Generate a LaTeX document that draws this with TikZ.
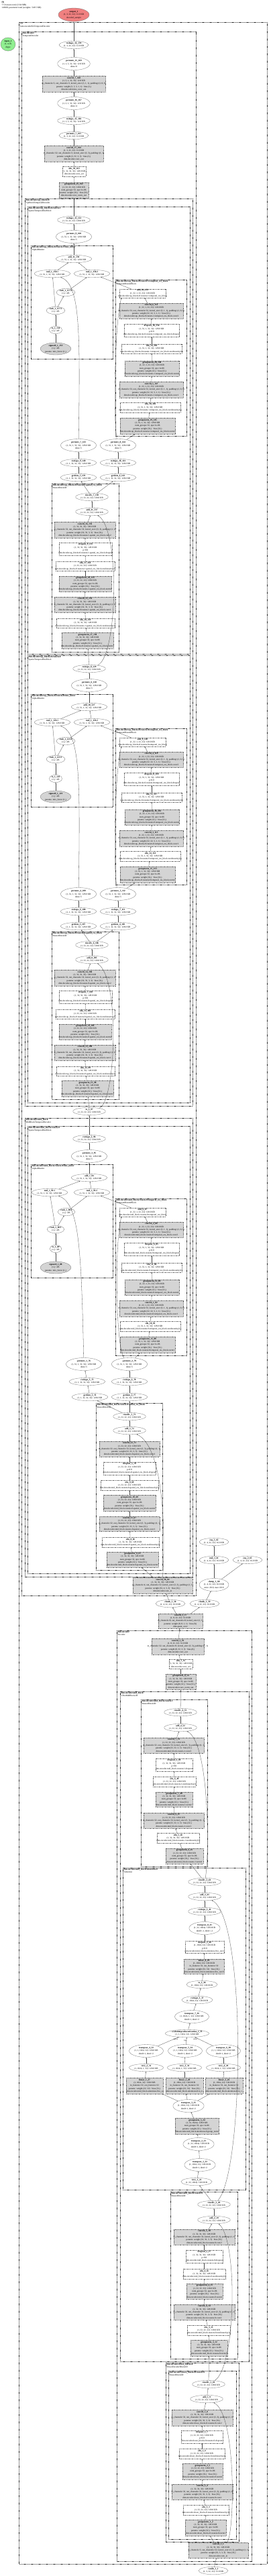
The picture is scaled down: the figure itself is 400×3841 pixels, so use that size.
\documentclass[tikz,border=0pt]{standalone}
\usepackage{fontspec}
\setmainfont{Liberation Serif}
\usetikzlibrary{shapes.geometric,arrows.meta}
\definecolor{outred}{HTML}{F08080}
\definecolor{ingreen}{HTML}{90EE90}
\tikzset{
  every node/.style={font=\fontsize{3.3}{4.3}\selectfont, align=center},
  ell/.style={ellipse, draw=black!55, line width=0.3pt, inner sep=0.4pt},
  gb/.style={rectangle, draw=black!65, line width=0.3pt, dash pattern=on 1pt off 0.7pt, fill=black!17, inner sep=0pt},
  wb/.style={rectangle, draw=black!65, line width=0.3pt, dash pattern=on 1pt off 0.7pt, fill=white, inner sep=0pt},
  txt/.style={inner sep=0pt},
  cl/.style={draw=black!80, line width=0.35pt, dash pattern=on 1.4pt off 0.8pt},
  cll/.style={anchor=north west, align=left, inner sep=0pt},
  e/.style={-{Stealth[length=1.8pt,width=1.4pt]}, line width=0.3pt, draw=black!70},
  elab/.style={font=\fontsize{2.8}{3}\selectfont, inner sep=0pt},
}
\newcommand\nE[4]{\node[ell] (#1) at (#2) {\textbf{#3}\\#4};}
\newcommand\nEE[4]{\node[ell,minimum height=19] (#1) at (#2) {\textbf{#3}\\#4};}
\newcommand\nG[6]{\node[gb,minimum width=#3,minimum height=#4] (#1) at (#2) {};\node[txt] at (#2) {\textbf{#5}\\#6};}
\newcommand\nW[6]{\node[wb,minimum width=#3,minimum height=#4] (#1) at (#2) {};\node[txt] at (#2) {\textbf{#5}\\#6};}
\newcommand\clu[3]{\draw[cl] (#1) rectangle (#2);\node[cll,xshift=1.5pt,yshift=-0.8pt] at (#1) {#3};}
\begin{document}
\catcode`\_=12
\newcommand\shS{(1, 32, 32, 32): 128.0 KB}
\newcommand\shT{(1, 32, 1, 32, 32): 128.0 KB}
\newcommand\shF{(1, 1, 32, 32, 32): 128.0 KB}
\newcommand\gnP{num_groups=32, eps=1e-06\\params: weight (32,) · bias (32,)}
\newcommand\cvS{in_channels=32, out_channels=32, kernel_size=(3, 3), padding=(1, 1)\\params: weight (32, 32, 3, 3) · bias (32,)}
\newcommand\cvT{in_channels=32, out_channels=32, kernel_size=(3, 1, 1), padding=(1, 0, 0)\\params: weight (32, 32, 3, 1, 1) · bias (32,)}
\newcommand\lnP{in_features=32, out_features=32\\params: weight (32, 32) · bias (32,)}
\newcommand\scl{(1,): 4 B}
\begin{tikzpicture}[x=1pt,y=-1pt]
\fill[white] (0,0) rectangle (400,3841);
\useasboundingbox (0,0) rectangle (400,3841);
\node[anchor=north west, align=left, inner sep=0pt] (hdr) at (2.5,1.5) {\textbf{fft}\\772 tensors total (3.64 MB)\\148102 parameter total (weights: 549.5 KB)};
% ---------------- clusters
\draw[cl, line width=0.65pt] (28,33) rectangle (398,3823);
\node[cll,xshift=1.5pt,yshift=-1pt] at (28,33) {\textbf{vae}\\AutoencoderKLTemporalDecoder};
\clu{32,47}{292,2379}{\textbf{dim.decoder}\\TemporalDecoder}
\clu{37,296}{287,1649}{\textbf{dim.decoder.up_blocks.0}\\UpBlockTemporalDecoder}
\clu{41,308}{283,975}{\textbf{dim.decoder.up_blocks.0.resnets.1}\\SpatioTemporalResBlock}
\clu{46,366}{168,535}{\textbf{dim.decoder.up_blocks.0.resnets.1.time_mixer}\\AlphaBlender}
\clu{172,417}{278,650}{\textbf{dim.decoder.up_blocks.0.resnets.1.temporal_res_block}\\TemporalResnetBlock}
\clu{77,721}{177,972}{\textbf{dim.decoder.up_blocks.0.resnets.1.spatial_res_block}\\ResnetBlock2D}
\clu{41,977}{283,1644}{\textbf{dim.decoder.up_blocks.0.resnets.0}\\SpatioTemporalResBlock}
\clu{46,1035}{168,1203}{\textbf{dim.decoder.up_blocks.0.resnets.0.time_mixer}\\AlphaBlender}
\clu{172,1086}{278,1319}{\textbf{dim.decoder.up_blocks.0.resnets.0.temporal_res_block}\\TemporalResnetBlock}
\clu{77,1389}{177,1639}{\textbf{dim.decoder.up_blocks.0.resnets.0.spatial_res_block}\\ResnetBlock2D}
\clu{37,1667}{287,2351}{\textbf{dim.decoder.mid_block}\\MidBlockTemporalDecoder}
\clu{41,1679}{283,2346}{\textbf{dim.decoder.mid_block.resnets.0}\\SpatioTemporalResBlock}
\clu{46,1736}{168,1905}{\textbf{dim.decoder.mid_block.resnets.0.time_mixer}\\AlphaBlender}
\clu{172,1787}{278,2021}{\textbf{dim.decoder.mid_block.resnets.0.temporal_res_block}\\TemporalResnetBlock}
\clu{143,2092}{242,2341}{\textbf{dim.decoder.mid_block.resnets.0.spatial_res_block}\\ResnetBlock2D}
\clu{174,2431}{375,3819}{\textbf{dim.encoder}\\Encoder}
\clu{179,2522}{371,3521}{\textbf{dim.encoder.mid_block}\\UNetMidBlock2D}
\clu{210,2534}{309,2783}{\textbf{dim.encoder.mid_block.resnets.1}\\ResnetBlock2D}
\clu{183,2785}{366,3265}{\textbf{dim.encoder.mid_block.attentions.0}\\Attention}
\clu{254,3268}{354,3517}{\textbf{dim.encoder.mid_block.resnets.0}\\ResnetBlock2D}
\clu{247,3523}{356,3790}{\textbf{dim.encoder.down_blocks.0}\\DownEncoderBlock2D}
\clu{251,3535}{352,3786}{\textbf{dim.encoder.down_blocks.0.resnets.0}\\ResnetBlock2D}
% ---------------- top
\node[ell, fill=outred, minimum width=46, minimum height=20] (out) at (110,22) {\textbf{output_1}\\(1, 3, 32, 32): 12.0 KB\\decoded_sample};
\node[ell, fill=ingreen, minimum width=22, minimum height=20] (inp) at (12,66) {\textbf{input_1}\\(1, 4, 8)\\dtype};
\nE{r14}{110,67}{reshape_14_170}{(1, 3, 32, 32): 12.0 KB}
\nEE{p21}{110,95}{permute_21_169}{(1, 1, 3, 32, 32): 12.0 KB\\dims=0}
\nG{c3d7}{110,125}{94}{24}{conv3d_7_168}{(1, 3, 1, 32, 32): 12.0 KB\\in_channels=3, out_channels=3, kernel_size=(3, 1, 1), padding=(1, 0, 0)\\params: weight (3, 3, 3, 1, 1) · bias (3,)\\dim.decoder.time_conv_out}
\nEE{p16}{110,154}{permute_16_167}{(1, 3, 1, 32, 32): 12.0 KB\\dims=4}
\nE{r12}{110,180}{reshape_12_166}{(1, 1, 3, 32, 32): 12.0 KB}
\nE{p7}{110,202}{permute_7_165}{(1, 3, 32, 32): 12.0 KB}
\nG{c2d57}{110,229}{88}{24}{conv2d_57_164}{(1, 3, 32, 32): 12.0 KB\\in_channels=32, out_channels=3, kernel_size=(3, 3), padding=(1, 1)\\params: weight (3, 32, 3, 3) · bias (3,)\\dim.decoder.conv_out}
\nW{s58}{110.5,255.5}{35}{15}{silu_58_163}{\shS\\dim.decoder.conv_act}
\nG{gn25}{110,283.5}{44}{23}{groupnorm_25_162}{\shS\\\gnP\\dim.decoder.conv_norm_out}
% ---------------- block A (up_blocks.0.resnets.1)
\nE{Ar11}{110,328}{reshape_11_161}{\shS}
\nEE{Ap9}{110,353}{permute_9_160}{\shT\\dims=5}
\nE{Aadd}{110,386}{add_11_159}{\shT}
\nE{Amul1}{78,408}{mul_1_158.1}{\shT}
\nE{Amul2}{137,408}{mul_1_158.2}{\shT}
\nE{Ars2}{98,436}{rsub_1_157.2}{\scl}
\nE{Ars1}{83,463}{rsub_1_157.1}{\scl}
\nE{Ato}{83,492}{to_1_154}{\scl}
\node[ell, fill=black!17, minimum height=18] (Asig) at (83,520) {\textbf{sigmoid_1_153}\\\scl\\params: mix_factor (1,)};
\nW{Atadd}{212.5,437.5}{69}{13}{add_32_152}{\shT\\dim.decoder.up_blocks.0.resnets.1.temporal_res_block}
\nG{Atc2}{225.5,463.5}{95}{23}{conv3d_6_151}{\shT\\\cvT\\dim.decoder.up_blocks.0.resnets.1.temporal_res_block.conv2}
\nW{Atdr}{226,492.5}{82}{19}{dropout_10_150}{\shT\\p=0.0\\dim.decoder.up_blocks.0.resnets.1.temporal_res_block.dropout}
\nW{Ats2}{226,520}{90}{14}{silu_19_149}{\shT\\dim.decoder.up_blocks.0.resnets.1.temporal_res_block.nonlinearity(2)}
\nG{Atn2}{226.5,549.5}{81}{23}{groupnorm_20_148}{\shT\\\gnP\\dim.decoder.up_blocks.0.resnets.1.temporal_res_block.norm2}
\nG{Atc1}{225.5,581}{95}{24}{conv3d_5_147}{\shT\\\cvT\\dim.decoder.up_blocks.0.resnets.1.temporal_res_block.conv1}
\nW{Ats1}{224,607.5}{90}{15}{silu_18_146}{\shT\\dim.decoder.up_blocks.0.resnets.1.temporal_res_block.nonlinearity(1)}
\nG{Atn1}{220,635}{82}{24}{groupnorm_19_145}{\shT\\\gnP\\dim.decoder.up_blocks.0.resnets.1.temporal_res_block.norm1}
\nEE{Ap7}{117,664}{permute_7_143}{\shT\\dims=5}
\nEE{Ap8}{176,664}{permute_8_144}{\shT\\dims=5}
\nE{Ar9}{117,690}{reshape_9_140}{\shF}
\nE{Ar10}{176,690}{reshape_10_141}{\shF}
\nE{Ag5}{117,712}{getitem_5_139}{\shF}
\nE{Ag6}{176,712}{getitem_6_142}{\shF}
\nE{Atd}{137,741}{truediv_7_138}{\shS}
\nE{Asadd}{137,763}{add_31_137}{\shS}
\nG{Asc2}{126.5,790}{91}{24}{conv2d_56_136}{\shS\\\cvS\\dim.decoder.up_blocks.0.resnets.1.spatial_res_block.conv2}
\nW{Asdr}{127.5,818.5}{79}{19}{dropout_9_135}{\shS\\p=0.0\\dim.decoder.up_blocks.0.resnets.1.spatial_res_block.dropout}
\nW{Ass2}{127,844}{88}{14}{silu_17_134}{\shS\\dim.decoder.up_blocks.0.resnets.1.spatial_res_block.nonlinearity(2)}
\nG{Asn2}{127,870.5}{78}{23}{groupnorm_18_133}{\shS\\\gnP\\dim.decoder.up_blocks.0.resnets.1.spatial_res_block.norm2}
\nG{Asc1}{126.5,901.5}{91}{23}{conv2d_55_132}{\shS\\\cvS\\dim.decoder.up_blocks.0.resnets.1.spatial_res_block.conv1}
\nW{Ass1}{127.5,929}{87}{14}{silu_16_131}{\shS\\dim.decoder.up_blocks.0.resnets.1.spatial_res_block.nonlinearity(1)}
\nG{Asn1}{130.5,955}{77}{24}{groupnorm_17_130}{\shS\\\gnP\\dim.decoder.up_blocks.0.resnets.1.spatial_res_block.norm1}
% ---------------- block B (up_blocks.0.resnets.0)
\nE{Br8}{133,997}{reshape_8_129}{\shS}
\nEE{Bp6}{133,1022}{permute_6_128}{\shT\\dims=5}
\nE{Badd}{133,1054}{add_10_127}{\shT}
\nE{Bmul1}{78,1077}{mul_1_126.1}{\shT}
\nE{Bmul2}{137,1077}{mul_1_126.2}{\shT}
\nE{Brs2}{98,1105}{rsub_1_125.2}{\scl}
\nE{Brs1}{83,1132}{rsub_1_125.1}{\scl}
\nE{Bto}{83,1161}{to_1_122}{\scl}
\node[ell, fill=black!17, minimum height=18] (Bsig) at (83,1188) {\textbf{sigmoid_1_121}\\\scl\\params: mix_factor (1,)};
\nW{Btadd}{212.5,1106.5}{69}{13}{add_9_120}{\shT\\dim.decoder.up_blocks.0.resnets.0.temporal_res_block}
\nG{Btc2}{225.5,1132.5}{95}{23}{conv3d_4_119}{\shT\\\cvT\\dim.decoder.up_blocks.0.resnets.0.temporal_res_block.conv2}
\nW{Btdr}{226,1161.5}{82}{19}{dropout_8_118}{\shT\\p=0.0\\dim.decoder.up_blocks.0.resnets.0.temporal_res_block.dropout}
\nW{Bts2}{226,1189}{90}{14}{silu_15_117}{\shT\\dim.decoder.up_blocks.0.resnets.0.temporal_res_block.nonlinearity(2)}
\nG{Btn2}{226.5,1218.5}{81}{23}{groupnorm_16_116}{\shT\\\gnP\\dim.decoder.up_blocks.0.resnets.0.temporal_res_block.norm2}
\nG{Btc1}{225.5,1250}{95}{24}{conv3d_3_115}{\shT\\\cvT\\dim.decoder.up_blocks.0.resnets.0.temporal_res_block.conv1}
\nW{Bts1}{224,1276.5}{90}{15}{silu_14_114}{\shT\\dim.decoder.up_blocks.0.resnets.0.temporal_res_block.nonlinearity(1)}
\nG{Btn1}{220,1304}{82}{24}{groupnorm_15_113}{\shT\\\gnP\\dim.decoder.up_blocks.0.resnets.0.temporal_res_block.norm1}
\nEE{Bp4}{117,1333}{permute_4_109}{\shT\\dims=5}
\nEE{Bp5}{176,1333}{permute_5_112}{\shT\\dims=5}
\nE{Br6}{117,1359}{reshape_6_108}{\shF}
\nE{Br7}{176,1359}{reshape_7_111}{\shF}
\nE{Bg3}{117,1381}{getitem_3_107}{\shF}
\nE{Bg4}{176,1381}{getitem_4_110}{\shF}
\nE{Btd}{137,1409}{truediv_6_106}{\shS}
\nE{Bsadd}{137,1431}{add_8_105}{\shS}
\nG{Bsc2}{126.5,1458}{91}{24}{conv2d_54_104}{\shS\\\cvS\\dim.decoder.up_blocks.0.resnets.0.spatial_res_block.conv2}
\nW{Bsdr}{127.5,1486.5}{79}{19}{dropout_7_103}{\shS\\p=0.0\\dim.decoder.up_blocks.0.resnets.0.spatial_res_block.dropout}
\nW{Bss2}{127,1512}{88}{14}{silu_13_102}{\shS\\dim.decoder.up_blocks.0.resnets.0.spatial_res_block.nonlinearity(2)}
\nG{Bsn2}{127,1538.5}{78}{23}{groupnorm_14_101}{\shS\\\gnP\\dim.decoder.up_blocks.0.resnets.0.spatial_res_block.norm2}
\nG{Bsc1}{126.5,1569.5}{91}{23}{conv2d_53_100}{\shS\\\cvS\\dim.decoder.up_blocks.0.resnets.0.spatial_res_block.conv1}
\nW{Bss1}{127.5,1597}{87}{14}{silu_12_99}{\shS\\dim.decoder.up_blocks.0.resnets.0.spatial_res_block.nonlinearity(1)}
\nG{Bsn1}{130.5,1623}{77}{24}{groupnorm_13_98}{\shS\\\gnP\\dim.decoder.up_blocks.0.resnets.0.spatial_res_block.norm1}
\nE{to3}{133,1657}{to_3_97}{\shS}
% ---------------- block C (mid_block.resnets.0)
\nE{Cr2}{133,1698}{reshape_2_96}{\shS}
\nEE{Cp3}{133,1724}{permute_3_95}{\shT\\dims=5}
\nE{Cadd}{133,1756}{add_7_94}{\shT}
\nE{Cmul1}{74,1778}{mul_1_92.1}{\shT}
\nE{Cmul2}{137,1778}{mul_1_92.2}{\shT}
\nE{Crs2}{99,1807}{rsub_1_90.2}{\scl}
\nE{Crs1}{83,1833}{rsub_1_90.1}{\scl}
\nE{Cto}{83,1862}{to_1_89}{\scl}
\node[ell, fill=black!17, minimum height=18] (Csig) at (83,1890) {\textbf{sigmoid_1_88}\\\scl\\params: mix_factor (1,)};
\nW{Ctadd}{212.5,1807.5}{69}{13}{add_6_87}{\shT\\dim.decoder.mid_block.resnets.0.temporal_res_block}
\nG{Ctc2}{225.5,1833.5}{95}{23}{conv3d_2_86}{\shT\\\cvT\\dim.decoder.mid_block.resnets.0.temporal_res_block.conv2}
\nW{Ctdr}{226,1862.5}{82}{19}{dropout_6_85}{\shT\\p=0.0\\dim.decoder.mid_block.resnets.0.temporal_res_block.dropout}
\nW{Cts2}{226,1890}{90}{14}{silu_11_84}{\shT\\dim.decoder.mid_block.resnets.0.temporal_res_block.nonlinearity(2)}
\nG{Ctn2}{226.5,1919.5}{81}{23}{groupnorm_12_83}{\shT\\\gnP\\dim.decoder.mid_block.resnets.0.temporal_res_block.norm2}
\nG{Ctc1}{225.5,1951}{95}{24}{conv3d_1_82}{\shT\\\cvT\\dim.decoder.mid_block.resnets.0.temporal_res_block.conv1}
\nW{Cts1}{224,1977.5}{90}{15}{silu_10_81}{\shT\\dim.decoder.mid_block.resnets.0.temporal_res_block.nonlinearity(1)}
\nG{Ctn1}{220,2005}{82}{24}{groupnorm_11_80}{\shT\\\gnP\\dim.decoder.mid_block.resnets.0.temporal_res_block.norm1}
\nEE{Cp1}{125,2034}{permute_1_76}{\shT\\dims=5}
\nEE{Cp2}{193,2034}{permute_2_79}{\shT\\dims=5}
\nE{Cr3}{130,2060}{reshape_3_75}{\shF}
\nE{Cr4}{193,2060}{reshape_4_78}{\shF}
\nE{Cg1}{134,2083}{getitem_1_74}{\shF}
\nE{Cg2}{193,2083}{getitem_2_77}{\shF}
\nE{Ctd}{193,2112}{truediv_1_73}{\shS}
\nE{Csadd}{193,2133}{add_5_72}{\shS}
\nG{Csc2}{193,2160.5}{90}{23}{conv2d_52_71}{\shS\\\cvS\\dim.decoder.mid_block.resnets.0.spatial_res_block.conv2}
\nW{Csdr}{193,2189.5}{78}{19}{dropout_5_70}{\shS\\p=0.0\\dim.decoder.mid_block.resnets.0.spatial_res_block.dropout}
\nW{Css2}{193,2214.5}{86}{15}{silu_9_69}{\shS\\dim.decoder.mid_block.resnets.0.spatial_res_block.nonlinearity(2)}
\nG{Csn2}{193,2241}{78}{24}{groupnorm_10_68}{\shS\\\gnP\\dim.decoder.mid_block.resnets.0.spatial_res_block.norm2}
\nG{Csc1}{193,2272}{90}{22}{conv2d_51_67}{\shS\\\cvS\\dim.decoder.mid_block.resnets.0.spatial_res_block.conv1}
\nW{Css1}{194.5,2299.5}{85}{15}{silu_8_66}{\shS\\dim.decoder.mid_block.resnets.0.spatial_res_block.nonlinearity(1)}
\nG{Csn1}{197.5,2325.5}{77}{23}{groupnorm_9_65}{\shS\\\gnP\\dim.decoder.mid_block.resnets.0.spatial_res_block.norm1}
\nG{Dcin}{242.5,2364}{89}{24}{conv2d_50_64}{\shS\\in_channels=4, out_channels=32, kernel_size=(3, 3), padding=(1, 1)\\params: weight (32, 4, 3, 3) · bias (32,)\\dim.decoder.conv_in}
% ---------------- latent
\nE{exp1}{319,2299}{exp_1_62}{(1, 4, 32, 32): 16.0 KB}
\nE{mul61}{319,2326}{mul_1_61}{(1, 4, 32, 32): 16.0 KB}
\nE{exp2}{369,2326}{exp_2_63}{(1, 4, 32, 32): 16.0 KB}
\nEE{clamp}{319,2363}{clamp_1_60}{(1, 4, 32, 32): 16.0 KB\\min=-30.0, max=20.0}
\nE{ch58}{254,2391}{chunk_1_58}{(1, 4, 32, 32): 16.0 KB}
\nE{ch59}{305,2391}{chunk_1_59}{(1, 4, 32, 32): 16.0 KB}
\nG{qc}{269,2417}{66}{22}{conv2d_3_57}{(1, 8, 32, 32): 32.0 KB\\in_channels=8, out_channels=8, kernel_size=(1, 1)\\params: weight (8, 8, 1, 1) · bias (8,)\\dim.quant_conv}
% ---------------- encoder
\nG{Ecout}{265,2455}{78}{24}{conv2d_2_56}{(1, 8, 32, 32): 32.0 KB\\in_channels=32, out_channels=8, kernel_size=(3, 3), padding=(1, 1)\\params: weight (8, 32, 3, 3) · bias (8,)\\dim.encoder.conv_out}
\nW{Eact}{269.5,2481}{35}{14}{silu_7_55}{\shS\\dim.encoder.conv_act}
\nG{Enorm}{269.5,2507.5}{45}{23}{groupnorm_8_54}{\shS\\\gnP\\dim.encoder.conv_norm_out}
\nE{Ftd}{269,2553}{truediv_4_53}{\shS}
\nE{Fadd}{269,2576}{add_4_52}{\shS}
\nG{Fc2}{259,2602.5}{90}{23}{conv2d_7_51}{\shS\\\cvS\\dim.encoder.mid_block.resnets.1.conv2}
\nW{Fdr}{259.5,2631.5}{55}{19}{dropout_3_50}{\shS\\p=0.0\\dim.encoder.mid_block.resnets.1.dropout}
\nW{Fs2}{260,2656.5}{64}{15}{silu_6_49}{\shS\\dim.encoder.mid_block.resnets.1.nonlinearity(2)}
\nG{Fn2}{259.5,2683}{55}{22}{groupnorm_7_48}{\shS\\\gnP\\dim.encoder.mid_block.resnets.1.norm2}
\nG{Fc1}{259,2714.5}{90}{23}{conv2d_6_47}{\shS\\\cvS\\dim.encoder.mid_block.resnets.1.conv1}
\nW{Fs1}{265.5,2740.5}{63}{15}{silu_5_46}{\shS\\dim.encoder.mid_block.resnets.1.nonlinearity(1)}
\nG{Fn1}{275,2767.5}{56}{23}{groupnorm_6_45}{\shS\\\gnP\\dim.encoder.mid_block.resnets.1.norm1}
\nE{Gtd}{305,2806}{truediv_3_44}{\shS}
\nE{Gadd}{305,2828}{add_3_43}{\shS}
\nE{Gr42}{305,2850}{reshape_2_42}{\shS}
\nEE{Gt41}{305,2875}{transpose_8_41}{(1, 32, 1024): 128.0 KB\\dim0=-1, dim1=-2}
\nW{Gdr}{305,2903}{58}{18}{dropout_2_40}{(1, 1024, 32): 128.0 KB\\p=0.0\\dim.encoder.mid_block.attentions.0.to_out.1}
\nG{Glin4}{304,2932}{60}{22}{linear_4_39}{(1, 1024, 32): 128.0 KB\\\lnP\\dim.encoder.mid_block.attentions.0.to_out.0}
\nE{Gto}{301,2959}{to_2_38}{(1, 1024, 32): 128.0 KB}
\nE{Gr37}{294,2982}{reshape_1_37}{(1, 1024, 32): 128.0 KB}
\nEE{Gt36}{286,3007}{transpose_7_36}{(1, 1024, 1, 32): 128.0 KB\\dim0=1, dim1=2}
\nE{Gsdpa}{279,3032}{scaleddotproductattention_1_35}{(1, 1, 1024, 32): 128.0 KB}
\nEE{Gt32}{218,3058}{transpose_4_32}{(1, 1, 1024, 32): 128.0 KB\\dim0=1, dim1=2}
\nEE{Gt34}{276,3058}{transpose_5_34}{(1, 1, 1024, 32): 128.0 KB\\dim0=1, dim1=2}
\nEE{Gt30}{333,3058}{transpose_6_30}{(1, 1, 1024, 32): 128.0 KB\\dim0=1, dim1=2}
\nE{Gv31}{218,3083}{view_2_31}{(1, 1024, 1, 32): 128.0 KB}
\nE{Gv33}{275,3083}{view_3_33}{(1, 1024, 1, 32): 128.0 KB}
\nE{Gv29}{333,3083}{view_4_29}{(1, 1024, 1, 32): 128.0 KB}
\nG{Glin2}{215.5,3110}{55}{24}{linear_1_27}{(1, 1024, 32): 128.0 KB\\\lnP\\dim.encoder.mid_block.attentions.0.to_q}
\nG{Glin3}{275,3110}{56}{24}{linear_2_28}{(1, 1024, 32): 128.0 KB\\\lnP\\dim.encoder.mid_block.attentions.0.to_k}
\nG{Glin1}{334,3110}{56}{24}{linear_3_26}{(1, 1024, 32): 128.0 KB\\\lnP\\dim.encoder.mid_block.attentions.0.to_v}
\nEE{Gt25}{281,3140}{transpose_3_25}{(1, 1024, 32): 128.0 KB\\dim0=1, dim1=2}
\nG{Ggn}{293.5,3170}{65}{24}{groupnorm_5_24}{(1, 32, 1024): 128.0 KB\\\gnP\\dim.encoder.mid_block.attentions.0.group_norm}
\nEE{Gt23}{296,3197}{transpose_2_23}{(1, 32, 1024): 128.0 KB\\dim0=1, dim1=2}
\nEE{Gt22}{298,3228}{transpose_1_22}{(1, 1024, 32): 128.0 KB\\dim0=1, dim1=2}
\nE{Gv21}{293,3253}{view_1_21}{(1, 32, 1024): 128.0 KB}
\nE{Htd}{319,3287}{truediv_2_20}{\shS}
\nE{Hadd}{319,3310}{add_2_19}{\shS}
\nG{Hc2}{304.5,3335.5}{91}{23}{conv2d_5_18}{\shS\\\cvS\\dim.encoder.mid_block.resnets.0.conv2}
\nW{Hdr}{304.5,3364.5}{55}{19}{dropout_2_17}{\shS\\p=0.0\\dim.encoder.mid_block.resnets.0.dropout}
\nW{Hs2}{304.5,3390.5}{63}{15}{silu_4_16}{\shS\\dim.encoder.mid_block.resnets.0.nonlinearity(2)}
\nG{Hn2}{305,3416.5}{54}{23}{groupnorm_4_15}{\shS\\\gnP\\dim.encoder.mid_block.resnets.0.norm2}
\nG{Hc1}{304.5,3447.5}{91}{23}{conv2d_4_14}{\shS\\\cvS\\dim.encoder.mid_block.resnets.0.conv1}
\nW{Hs1}{311,3474.5}{64}{15}{silu_3_13}{\shS\\dim.encoder.mid_block.resnets.0.nonlinearity(1)}
\nG{Hn1}{311.5,3501}{55}{24}{groupnorm_3_12}{\shS\\\gnP\\dim.encoder.mid_block.resnets.0.norm1}
\nE{Itd}{311,3555}{truediv_1_10}{\shS}
\nE{Iadd}{308,3577}{add_1_9}{\shS}
\nG{Ic2}{301.5,3605}{91}{24}{conv2d_3_8}{\shS\\\cvS\\dim.encoder.down_blocks.0.resnets.0.conv2}
\nW{Idr}{301,3633.5}{62}{19}{dropout_1_7}{\shS\\p=0.0\\dim.encoder.down_blocks.0.resnets.0.dropout}
\nW{Is2}{301,3658.5}{68}{15}{silu_2_6}{\shS\\dim.encoder.down_blocks.0.resnets.0.nonlinearity(2)}
\nG{In2}{302,3685}{60}{24}{groupnorm_2_5}{\shS\\\gnP\\dim.encoder.down_blocks.0.resnets.0.norm2}
\nG{Ic1}{301.5,3715.5}{91}{23}{conv2d_2_4}{\shS\\\cvS\\dim.encoder.down_blocks.0.resnets.0.conv1}
\nW{Is1}{307,3742.5}{68}{15}{silu_1_3}{\shS\\dim.encoder.down_blocks.0.resnets.0.nonlinearity(1)}
\nG{In1}{306.5,3769}{61}{24}{groupnorm_1_2}{\shS\\\gnP\\dim.encoder.down_blocks.0.resnets.0.norm1}
\nG{Ecin}{325.5,3802.5}{89}{23}{conv2d_1_1}{\shS\\in_channels=3, out_channels=32, kernel_size=(3, 3), padding=(1, 1)\\params: weight (32, 3, 3, 3) · bias (32,)\\dim.encoder.conv_in}
\nE{rnd}{318,3833}{randn_1_1}{(1, 3, 32, 32): 12.0 KB}
% ---------------- edges: decoder top
\draw[e] (r14) -- (out);
\draw[e] (p21) -- (r14);
\draw[e] (c3d7) -- (p21);
\draw[e] (p16) -- (c3d7);
\draw[e] (r12) -- (p16);
\draw[e] (p7) -- (r12);
\draw[e] (c2d57) -- (p7);
\draw[e] (s58) -- (c2d57);
\draw[e] (gn25) -- (s58);
\draw[e] (Ar11) -- (gn25);
% A
\draw[e] (Ap9) -- (Ar11);
\draw[e] (Aadd) -- (Ap9);
\draw[e] (Amul1) -- (Aadd);
\draw[e] (Amul2) -- (Aadd);
\draw[e] (Ars2) -- (Amul2);
\draw[e] (Ars1) -- (Amul1);
\draw[e] (Ars1) -- (Ars2);
\draw[e] (Ato) -- (Ars1);
\draw[e] (Asig) -- (Ato);
\draw[e] (Atadd) -- (Amul2);
\draw[e] (Atc2) -- (Atadd);
\draw[e] (Atdr) -- (Atc2);
\draw[e] (Ats2) -- (Atdr);
\draw[e] (Atn2) -- (Ats2);
\draw[e] (Atc1) -- (Atn2);
\draw[e] (Ats1) -- (Atc1);
\draw[e] (Atn1) -- (Ats1);
\draw[e] (Ap8) -- (Atn1);
\draw[e] (Ap8) .. controls (168,620) and (172,470) .. (Atadd.192);
\draw[e] (Ap7) .. controls (120,480) and (118,425) .. (Amul1);
\draw[e] (Ar9) -- (Ap7);
\draw[e] (Ar10) -- (Ap8);
\draw[e] (Ag5) -- (Ar9);
\draw[e] (Ag6) -- (Ar10);
\draw[e] (Atd) -- (Ag5);
\draw[e] (Atd) -- (Ag6);
\draw[e] (Asadd) -- (Atd);
\draw[e] (Asc2) -- (Asadd);
\draw[e] (Asdr) -- (Asc2);
\draw[e] (Ass2) -- (Asdr);
\draw[e] (Asn2) -- (Ass2);
\draw[e] (Asc1) -- (Asn2);
\draw[e] (Ass1) -- (Asc1);
\draw[e] (Asn1) -- (Ass1);
\draw[e] (Br8) -- (Asn1);
\draw[e] (Br8) .. controls (175,980) and (180,790) .. (Asadd);
% B
\draw[e] (Bp6) -- (Br8);
\draw[e] (Badd) -- (Bp6);
\draw[e] (Bmul1) -- (Badd);
\draw[e] (Bmul2) -- (Badd);
\draw[e] (Brs2) -- (Bmul2);
\draw[e] (Brs1) -- (Bmul1);
\draw[e] (Brs1) -- (Brs2);
\draw[e] (Bto) -- (Brs1);
\draw[e] (Bsig) -- (Bto);
\draw[e] (Btadd) -- (Bmul2);
\draw[e] (Btc2) -- (Btadd);
\draw[e] (Btdr) -- (Btc2);
\draw[e] (Bts2) -- (Btdr);
\draw[e] (Btn2) -- (Bts2);
\draw[e] (Btc1) -- (Btn2);
\draw[e] (Bts1) -- (Btc1);
\draw[e] (Btn1) -- (Bts1);
\draw[e] (Bp5) -- (Btn1);
\draw[e] (Bp5) .. controls (168,1289) and (172,1139) .. (Btadd.192);
\draw[e] (Bp4) .. controls (120,1149) and (118,1094) .. (Bmul1);
\draw[e] (Br6) -- (Bp4);
\draw[e] (Br7) -- (Bp5);
\draw[e] (Bg3) -- (Br6);
\draw[e] (Bg4) -- (Br7);
\draw[e] (Btd) -- (Bg3);
\draw[e] (Btd) -- (Bg4);
\draw[e] (Bsadd) -- (Btd);
\draw[e] (Bsc2) -- (Bsadd);
\draw[e] (Bsdr) -- (Bsc2);
\draw[e] (Bss2) -- (Bsdr);
\draw[e] (Bsn2) -- (Bss2);
\draw[e] (Bsc1) -- (Bsn2);
\draw[e] (Bss1) -- (Bsc1);
\draw[e] (Bsn1) -- (Bss1);
\draw[e] (to3) -- (Bsn1);
\draw[e] (to3) .. controls (172,1645) and (180,1460) .. (Bsadd);
% C
\draw[e] (Cr2) -- (to3);
\draw[e] (Cp3) -- (Cr2);
\draw[e] (Cadd) -- (Cp3);
\draw[e] (Cmul1) -- (Cadd);
\draw[e] (Cmul2) -- (Cadd);
\draw[e] (Crs2) -- (Cmul2);
\draw[e] (Crs1) -- (Cmul1);
\draw[e] (Crs1) -- (Crs2);
\draw[e] (Cto) -- (Crs1);
\draw[e] (Csig) -- (Cto);
\draw[e] (Ctadd) -- (Cmul2);
\draw[e] (Ctc2) -- (Ctadd);
\draw[e] (Ctdr) -- (Ctc2);
\draw[e] (Cts2) -- (Ctdr);
\draw[e] (Ctn2) -- (Cts2);
\draw[e] (Ctc1) -- (Ctn2);
\draw[e] (Cts1) -- (Ctc1);
\draw[e] (Ctn1) -- (Cts1);
\draw[e] (Cp2) -- (Ctn1);
\draw[e] (Cp2) .. controls (172,2010) and (171,1845) .. (Ctadd.192);
\draw[e] (Cp1) .. controls (121,1860) and (118,1795) .. (Cmul1);
\draw[e] (Cr3) -- (Cp1);
\draw[e] (Cr4) -- (Cp2);
\draw[e] (Cg1) -- (Cr3);
\draw[e] (Cg2) -- (Cr4);
\draw[e] (Ctd) -- (Cg1);
\draw[e] (Ctd) -- (Cg2);
\draw[e] (Csadd) -- (Ctd);
\draw[e] (Csc2) -- (Csadd);
\draw[e] (Csdr) -- (Csc2);
\draw[e] (Css2) -- (Csdr);
\draw[e] (Csn2) -- (Css2);
\draw[e] (Csc1) -- (Csn2);
\draw[e] (Css1) -- (Csc1);
\draw[e] (Csn1) -- (Css1);
\draw[e] (Dcin) -- (Csn1);
\draw[e] (Dcin.north) .. controls (246,2300) and (247,2160) .. (Csadd);
% latent
\draw[e] (ch58) -- (Dcin);
\draw[e] (qc) -- (ch58);
\draw[e] (qc) -- (ch59);
\draw[e] (ch59) -- (clamp);
\draw[e] (clamp) -- (mul61);
\draw[e] (clamp) -- (exp2);
\draw[e] (mul61) -- (exp1);
\draw[e] (Ecout) -- (qc);
% encoder
\draw[e] (Eact) -- (Ecout);
\draw[e] (Enorm) -- (Eact);
\draw[e] (Ftd) -- (Enorm);
\draw[e] (Fadd) -- (Ftd);
\draw[e] (Fc2) -- (Fadd);
\draw[e] (Fdr) -- (Fc2);
\draw[e] (Fs2) -- (Fdr);
\draw[e] (Fn2) -- (Fs2);
\draw[e] (Fc1) -- (Fn2);
\draw[e] (Fs1) -- (Fc1);
\draw[e] (Fn1) -- (Fs1);
\draw[e] (Gtd) -- (Fn1);
\draw[e] (Gtd) .. controls (312,2770) and (313,2600) .. (Fadd);
\draw[e] (Gadd) -- (Gtd);
\draw[e] (Gr42) -- (Gadd);
\draw[e] (Gt41) -- (Gr42);
\draw[e] (Gdr) -- (Gt41);
\draw[e] (Glin4) -- (Gdr);
\draw[e] (Gto) -- (Glin4);
\draw[e] (Gr37) -- (Gto);
\draw[e] (Gt36) -- (Gr37);
\draw[e] (Gsdpa) -- (Gt36);
\draw[e] (Gt32) -- (Gsdpa);
\draw[e] (Gt34) -- (Gsdpa);
\draw[e] (Gt30) -- (Gsdpa);
\node[elab] at (262,3041) {query};
\node[elab] at (276.5,3042.5) {key};
\node[elab] at (291,3041) {value};
\draw[e] (Gv31) -- (Gt32);
\draw[e] (Gv33) -- (Gt34);
\draw[e] (Gv29) -- (Gt30);
\draw[e] (Glin2) -- (Gv31);
\draw[e] (Glin3) -- (Gv33);
\draw[e] (Glin1) -- (Gv29);
\draw[e] (Gt25) -- (Glin2);
\draw[e] (Gt25) -- (Glin3);
\draw[e] (Gt25) -- (Glin1);
\draw[e] (Ggn) -- (Gt25);
\draw[e] (Gt23) -- (Ggn);
\draw[e] (Gt22) -- (Gt23);
\draw[e] (Gv21) -- (Gt22);
\draw[e] (Htd) -- (Gv21);
\draw[e] (Htd) .. controls (364,3240) and (368,2860) .. (Gadd);
\draw[e] (Hadd) -- (Htd);
\draw[e] (Hc2) -- (Hadd);
\draw[e] (Hdr) -- (Hc2);
\draw[e] (Hs2) -- (Hdr);
\draw[e] (Hn2) -- (Hs2);
\draw[e] (Hc1) -- (Hn2);
\draw[e] (Hs1) -- (Hc1);
\draw[e] (Hn1) -- (Hs1);
\draw[e] (Itd) -- (Hn1);
\draw[e] (Itd) .. controls (352,3530) and (355,3340) .. (Hadd);
\draw[e] (Iadd) -- (Itd);
\draw[e] (Ic2) -- (Iadd);
\draw[e] (Idr) -- (Ic2);
\draw[e] (Is2) -- (Idr);
\draw[e] (In2) -- (Is2);
\draw[e] (Ic1) -- (In2);
\draw[e] (Is1) -- (Ic1);
\draw[e] (In1) -- (Is1);
\draw[e] (Ecin) -- (In1);
\draw[e] (Ecin) .. controls (350,3780) and (353,3600) .. (Iadd);
\draw[e] (rnd) -- (Ecin);
\end{tikzpicture}
\end{document}
